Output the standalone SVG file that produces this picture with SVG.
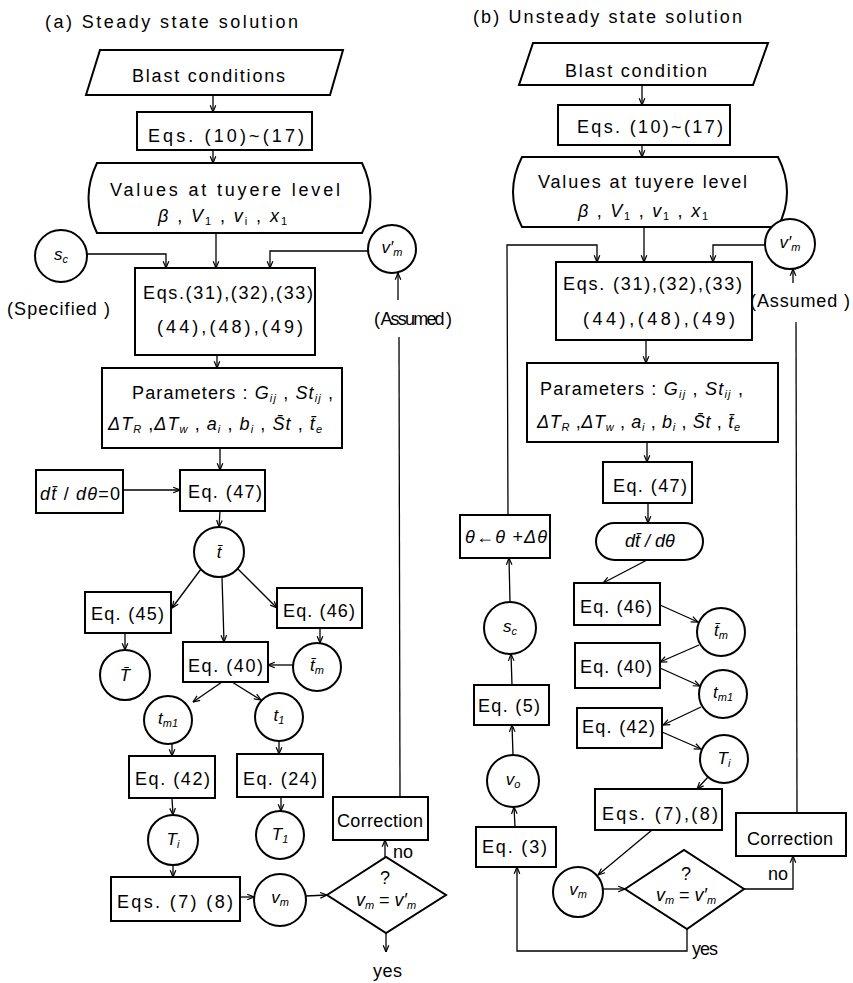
<svg xmlns="http://www.w3.org/2000/svg" width="853" height="983" viewBox="0 0 853 983">
<defs>
<marker id="ah" viewBox="0 0 10 10" refX="9.5" refY="5" markerWidth="8" markerHeight="8" markerUnits="userSpaceOnUse" orient="auto">
<path d="M1,1.5 L9.5,5 L1,8.5" fill="none" stroke="#000" stroke-width="1.5"/>
</marker>
</defs>
<style>
.b{fill:#fff;stroke:#000;stroke-width:2}
.c{fill:none;stroke:#000;stroke-width:1.3}
.a{marker-end:url(#ah)}
text{font-family:"Liberation Sans",Arial,sans-serif;font-size:18px;fill:#000}
.t{text-anchor:middle}
.i{font-style:italic}
.s{font-size:11px}
.m{font-size:17px;font-style:italic}
</style>
<rect width="853" height="983" fill="#fff"/>

<g id="connectors">
<!-- (a) -->
<line class="c a" x1="213" y1="95" x2="213" y2="112"/>
<line class="c a" x1="213" y1="150" x2="213" y2="163"/>
<line class="c a" x1="216" y1="233" x2="216" y2="268"/>
<polyline class="c a" points="87,254 166,254 166,268"/>
<polyline class="c a" points="368,251 270,251 270,268"/>
<line class="c a" x1="217" y1="355" x2="217" y2="368"/>
<line class="c a" x1="220" y1="448" x2="220" y2="470"/>
<line class="c a" x1="123" y1="490" x2="180" y2="490"/>
<line class="c a" x1="220" y1="511" x2="219" y2="527"/>
<line class="c a" x1="201" y1="569" x2="172" y2="608"/>
<line class="c a" x1="222" y1="577" x2="224" y2="642"/>
<line class="c a" x1="237" y1="568" x2="277" y2="608"/>
<line class="c a" x1="125" y1="633" x2="125" y2="650"/>
<line class="c a" x1="320" y1="628" x2="320" y2="643"/>
<line class="c a" x1="293" y1="665" x2="268" y2="665"/>
<line class="c a" x1="222" y1="682" x2="193" y2="702"/>
<line class="c a" x1="232" y1="682" x2="261" y2="700"/>
<line class="c a" x1="172" y1="744" x2="172" y2="756"/>
<line class="c a" x1="279" y1="741" x2="279" y2="754"/>
<line class="c a" x1="172" y1="798" x2="173" y2="815"/>
<line class="c a" x1="281" y1="797" x2="281" y2="811"/>
<line class="c a" x1="173" y1="865" x2="173" y2="877"/>
<line class="c a" x1="240" y1="897" x2="254" y2="897"/>
<line class="c a" x1="306" y1="896" x2="327" y2="895"/>
<line class="c a" x1="385" y1="857" x2="385" y2="840"/>
<line class="c" x1="400" y1="797" x2="399" y2="337"/>
<line class="c a" x1="398" y1="300" x2="398" y2="273"/>
<line class="c a" x1="386" y1="933" x2="386" y2="952"/>
<!-- (b) -->
<line class="c a" x1="642" y1="85" x2="642" y2="105"/>
<line class="c a" x1="642" y1="145" x2="642" y2="157"/>
<line class="c a" x1="644" y1="227" x2="644" y2="262"/>
<polyline class="c a" points="508,515 507,245 597,245 597,262"/>
<polyline class="c a" points="765,245 713,245 713,262"/>
<line class="c a" x1="646" y1="340" x2="646" y2="363"/>
<line class="c a" x1="647" y1="442" x2="647" y2="462"/>
<line class="c a" x1="648" y1="503" x2="648" y2="523"/>
<line class="c a" x1="647" y1="560" x2="603" y2="583"/>
<line class="c a" x1="660" y1="605" x2="698" y2="622"/>
<line class="c a" x1="699" y1="645" x2="660" y2="662"/>
<line class="c a" x1="660" y1="668" x2="700" y2="686"/>
<line class="c a" x1="701" y1="707" x2="663" y2="725"/>
<line class="c a" x1="662" y1="732" x2="701" y2="749"/>
<line class="c a" x1="708" y1="777" x2="697" y2="789"/>
<line class="c a" x1="652" y1="830" x2="598" y2="875"/>
<line class="c a" x1="603" y1="889" x2="625" y2="889"/>
<polyline class="c a" points="744,889 793,889 793,856"/>
<line class="c" x1="797" y1="813" x2="796" y2="322"/>
<line class="c a" x1="793" y1="283" x2="793" y2="269"/>
<polyline class="c a" points="687,929 687,951 517,951 517,867"/>
<line class="c a" x1="515" y1="827" x2="514" y2="807"/>
<line class="c a" x1="513" y1="755" x2="512" y2="725"/>
<line class="c a" x1="512" y1="685" x2="511" y2="654"/>
<line class="c a" x1="510" y1="602" x2="509" y2="558"/>
</g>

<!-- ===== (a) Steady state ===== -->
<g id="a-title"><text x="45" y="28" font-size="17" textLength="253" lengthAdjust="spacing">(a) Steady state solution</text></g>
<g id="a-blast"><polygon class="b" points="100,50 343,50 330,95 86,95"/><text x="132" y="82" textLength="153">Blast conditions</text></g>
<g id="a-eq10"><rect class="b" x="137" y="112" width="175" height="38"/><text x="148" y="142" textLength="156">Eqs. (10)~(17)</text></g>
<g id="a-values"><path class="b" d="M97,163 H362 Q379,198 362,233 H97 Q80,198 97,163 Z"/>
<text x="110" y="196" textLength="230">Values at tuyere level</text>
<text x="158" y="222" textLength="129"><tspan class="i">β</tspan> , <tspan class="i">V</tspan><tspan class="s" dy="3">1</tspan><tspan dy="-3"> , </tspan><tspan class="i">v</tspan><tspan class="s" dy="3">i</tspan><tspan dy="-3"> , </tspan><tspan class="i">x</tspan><tspan class="s" dy="3">1</tspan></text></g>
<g id="a-sc"><circle class="b" cx="61" cy="256" r="26"/><text class="m t" x="61" y="260">s<tspan class="s" dy="3">c</tspan></text></g>
<g id="a-specified"><text x="7" y="315" textLength="103">(Specified )</text></g>
<g id="a-vmp"><circle class="b" cx="392" cy="249" r="24"/><text class="m t" x="392" y="253">v′<tspan class="s" dy="3">m</tspan></text></g>
<g id="a-assumed"><text x="374" y="325" font-size="15" textLength="78">( Assumed )</text></g>
<g id="a-eq31"><rect class="b" x="135" y="268" width="180" height="87"/>
<text x="143" y="299" textLength="170">Eqs.(31),(32),(33)</text>
<text x="157" y="333" textLength="146">(44),(48),(49)</text></g>
<g id="a-params"><rect class="b" x="102" y="368" width="240" height="80"/>
<text x="132" y="399" textLength="201">Parameters : <tspan class="i">G</tspan><tspan class="s i" dy="3">ij</tspan><tspan dy="-3"> , </tspan><tspan class="i">St</tspan><tspan class="s i" dy="3">ij</tspan><tspan dy="-3"> ,</tspan></text>
<text x="108" y="430" textLength="214"><tspan class="i">ΔT</tspan><tspan class="s i" dy="3">R</tspan><tspan dy="-3"> ,</tspan><tspan class="i">ΔT</tspan><tspan class="s i" dy="3">w</tspan><tspan dy="-3"> , </tspan><tspan class="i">a</tspan><tspan class="s i" dy="3">i</tspan><tspan dy="-3"> , </tspan><tspan class="i">b</tspan><tspan class="s i" dy="3">i</tspan><tspan dy="-3"> , </tspan><tspan class="i">S̄t</tspan> , <tspan class="i">t̄</tspan><tspan class="s i" dy="3">e</tspan></text></g>
<g id="a-dtd0"><rect class="b" x="36" y="470" width="87" height="43"/><text x="40" y="500" textLength="80"><tspan class="i">dt̄</tspan> / <tspan class="i">dθ</tspan>=0</text></g>
<g id="a-eq47"><rect class="b" x="180" y="470" width="85" height="41"/><text x="188" y="498" textLength="74">Eq. (47)</text></g>
<g id="a-tbar"><circle class="b" cx="219" cy="552" r="25"/><text class="m t" x="219" y="558" font-size="19">t̄</text></g>
<g id="a-eq45"><rect class="b" x="85" y="592" width="86" height="41"/><text x="91" y="620" textLength="73">Eq. (45)</text></g>
<g id="a-eq46"><rect class="b" x="277" y="588" width="85" height="40"/><text x="283" y="617" textLength="72">Eq. (46)</text></g>
<g id="a-Tbar"><circle class="b" cx="125" cy="675" r="25"/><text class="m t" x="125" y="681" font-size="19">T̄</text></g>
<g id="a-eq40"><rect class="b" x="183" y="642" width="85" height="40"/><text x="188" y="672" textLength="75">Eq. (40)</text></g>
<g id="a-tmbar"><circle class="b" cx="317" cy="667" r="24"/><text class="m t" x="317" y="671">t̄<tspan class="s" dy="3">m</tspan></text></g>
<g id="a-tm1"><circle class="b" cx="168" cy="720" r="24"/><text class="m t" x="168" y="724">t<tspan class="s" dy="3">m1</tspan></text></g>
<g id="a-t1"><circle class="b" cx="279" cy="717" r="24"/><text class="m t" x="279" y="721">t<tspan class="s" dy="3">1</tspan></text></g>
<g id="a-eq42"><rect class="b" x="129" y="756" width="86" height="42"/><text x="135" y="785" textLength="75">Eq. (42)</text></g>
<g id="a-eq24"><rect class="b" x="237" y="754" width="86" height="43"/><text x="243" y="785" textLength="74">Eq. (24)</text></g>
<g id="a-Ti"><circle class="b" cx="173" cy="840" r="25"/><text class="m t" x="173" y="845">T<tspan class="s" dy="3">i</tspan></text></g>
<g id="a-T1"><circle class="b" cx="280" cy="835" r="24"/><text class="m t" x="280" y="840">T<tspan class="s" dy="3">1</tspan></text></g>
<g id="a-eq78"><rect class="b" x="111" y="877" width="129" height="44"/><text x="117" y="908" textLength="116">Eqs. (7) (8)</text></g>
<g id="a-vm"><circle class="b" cx="280" cy="900" r="26"/><text class="m t" x="280" y="903">v<tspan class="s" dy="3">m</tspan></text></g>
<g id="a-check"><polygon class="b" points="327,895 386,857 446,895 386,933"/>
<text class="t" x="385" y="884" font-size="15">?</text>
<text class="t" x="386" y="906" font-size="16"><tspan class="i">v</tspan><tspan class="s i" dy="3">m</tspan><tspan dy="-3"> = </tspan><tspan class="i">v′</tspan><tspan class="s i" dy="3">m</tspan></text></g>
<g id="a-no"><text x="393" y="858" font-size="17">no</text></g>
<g id="a-corr"><rect class="b" x="333" y="797" width="95" height="43"/><text x="337" y="827" textLength="86">Correction</text></g>
<g id="a-yes"><text x="373" y="977" textLength="29">yes</text></g>

<!-- ===== (b) Unsteady state ===== -->
<g id="b-title"><text x="473" y="23" font-size="17" textLength="269" lengthAdjust="spacing">(b) Unsteady state solution</text></g>
<g id="b-blast"><polygon class="b" points="533,43 768,43 753,85 519,85"/><text x="565" y="77" textLength="142">Blast condition</text></g>
<g id="b-eq10"><rect class="b" x="558" y="105" width="172" height="40"/><text x="577" y="133" textLength="146">Eqs. (10)~(17)</text></g>
<g id="b-values"><path class="b" d="M522,157 H778 Q796,192 778,227 H522 Q504,192 522,157 Z"/>
<text x="538" y="188" textLength="209">Values at tuyere level</text>
<text x="578" y="217" textLength="130"><tspan class="i">β</tspan> , <tspan class="i">V</tspan><tspan class="s" dy="3">1</tspan><tspan dy="-3"> , </tspan><tspan class="i">v</tspan><tspan class="s" dy="3">1</tspan><tspan dy="-3"> , </tspan><tspan class="i">x</tspan><tspan class="s" dy="3">1</tspan></text></g>
<g id="b-vmp"><circle class="b" cx="790" cy="244" r="25"/><text class="m t" x="790" y="248">v′<tspan class="s" dy="3">m</tspan></text></g>
<g id="b-assumed"><text x="750" y="307" textLength="100">(Assumed )</text></g>
<g id="b-eq31"><rect class="b" x="556" y="262" width="196" height="78"/>
<text x="563" y="290" textLength="179">Eqs. (31),(32),(33)</text>
<text x="583" y="325" textLength="152">(44),(48),(49)</text></g>
<g id="b-params"><rect class="b" x="527" y="363" width="251" height="79"/>
<text x="540" y="395" textLength="203">Parameters : <tspan class="i">G</tspan><tspan class="s i" dy="3">ij</tspan><tspan dy="-3"> , </tspan><tspan class="i">St</tspan><tspan class="s i" dy="3">ij</tspan><tspan dy="-3"> ,</tspan></text>
<text x="537" y="428" textLength="203"><tspan class="i">ΔT</tspan><tspan class="s i" dy="3">R</tspan><tspan dy="-3"> ,</tspan><tspan class="i">ΔT</tspan><tspan class="s i" dy="3">w</tspan><tspan dy="-3"> , </tspan><tspan class="i">a</tspan><tspan class="s i" dy="3">i</tspan><tspan dy="-3"> , </tspan><tspan class="i">b</tspan><tspan class="s i" dy="3">i</tspan><tspan dy="-3"> , </tspan><tspan class="i">S̄t</tspan> , <tspan class="i">t̄</tspan><tspan class="s i" dy="3">e</tspan></text></g>
<g id="b-eq47"><rect class="b" x="603" y="462" width="89" height="41"/><text x="613" y="492" textLength="74">Eq. (47)</text></g>
<g id="b-dtdth"><rect class="b" x="596" y="523" width="107" height="37" rx="18.5"/><text class="t i" x="650" y="547">dt̄ / dθ</text></g>
<g id="b-theta"><rect class="b" x="460" y="515" width="90" height="43"/><text class="i" x="465" y="543" font-size="15" textLength="82">θ←θ +Δθ</text></g>
<g id="b-eq46"><rect class="b" x="574" y="583" width="86" height="42"/><text x="580" y="613" textLength="72">Eq. (46)</text></g>
<g id="b-tmbar"><circle class="b" cx="721" cy="632" r="24"/><text class="m t" x="721" y="636">t̄<tspan class="s" dy="3">m</tspan></text></g>
<g id="b-eq40"><rect class="b" x="575" y="643" width="85" height="45"/><text x="580" y="673" textLength="72">Eq. (40)</text></g>
<g id="b-tm1"><circle class="b" cx="723" cy="694" r="24"/><text class="m t" x="723" y="698">t<tspan class="s" dy="3">m1</tspan></text></g>
<g id="b-eq42"><rect class="b" x="577" y="708" width="85" height="40"/><text x="582" y="733" textLength="73">Eq. (42)</text></g>
<g id="b-Ti"><circle class="b" cx="724" cy="759" r="24"/><text class="m t" x="724" y="764">T<tspan class="s" dy="3">i</tspan></text></g>
<g id="b-sc"><circle class="b" cx="510" cy="628" r="26"/><text class="m t" x="510" y="632">s<tspan class="s" dy="3">c</tspan></text></g>
<g id="b-eq5"><rect class="b" x="474" y="685" width="75" height="40"/><text x="478" y="712" textLength="62">Eq. (5)</text></g>
<g id="b-v0"><circle class="b" cx="513" cy="781" r="26"/><text class="m t" x="513" y="785">v<tspan class="s" dy="3">o</tspan></text></g>
<g id="b-eq3"><rect class="b" x="476" y="827" width="80" height="40"/><text x="482" y="853" textLength="65">Eq. (3)</text></g>
<g id="b-eq78"><rect class="b" x="595" y="789" width="127" height="41"/><text x="602" y="820" textLength="116">Eqs. (7),(8)</text></g>
<g id="b-vm"><circle class="b" cx="578" cy="892" r="25"/><text class="m t" x="578" y="895">v<tspan class="s" dy="3">m</tspan></text></g>
<g id="b-check"><polygon class="b" points="625,889 684,850 744,889 687,929"/>
<text class="t" x="686" y="880" font-size="15">?</text>
<text class="t" x="686" y="901" font-size="16"><tspan class="i">v</tspan><tspan class="s i" dy="3">m</tspan><tspan dy="-3"> = </tspan><tspan class="i">v′</tspan><tspan class="s i" dy="3">m</tspan></text></g>
<g id="b-no"><text x="768" y="880" font-size="17">no</text></g>
<g id="b-corr"><rect class="b" x="736" y="813" width="110" height="43"/><text x="747" y="845" textLength="86">Correction</text></g>
<g id="b-yes"><text x="692" y="955" textLength="26">yes</text></g>
</svg>
